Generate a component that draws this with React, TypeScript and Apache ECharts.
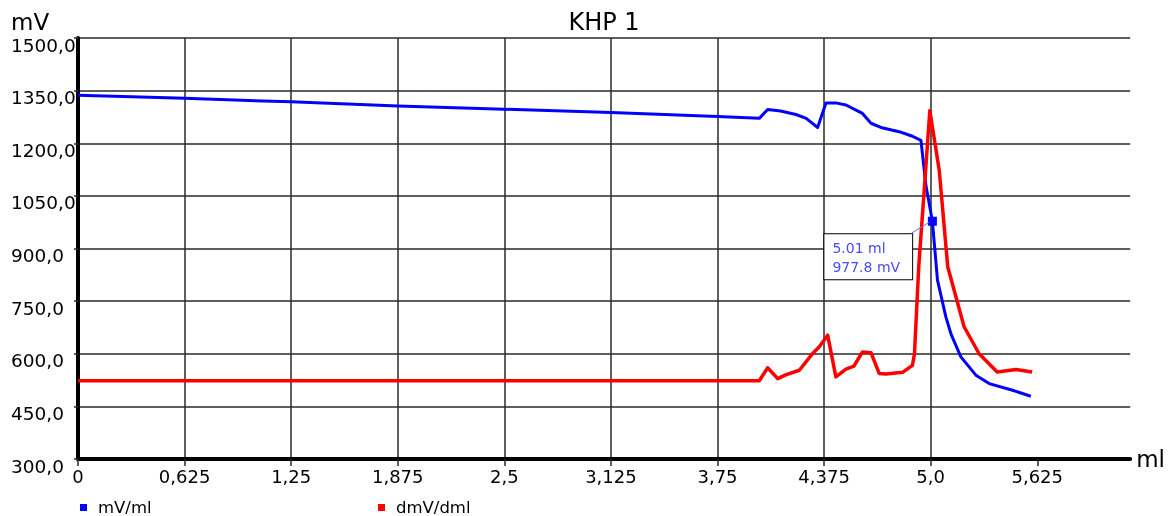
import React, { useEffect, useRef } from "react";
import * as echarts from "echarts";

const mvVolumes = [0, 0.625, 1.25, 1.875, 2.5, 3.125, 3.75, 3.995, 4.044, 4.12, 4.21, 4.27, 4.337, 4.386, 4.444, 4.503, 4.6, 4.65, 4.708, 4.815, 4.893, 4.943, 4.972, 5.01, 5.04, 5.089, 5.12, 5.177, 5.265, 5.343, 5.48, 5.587];
const mvValues = [1337, 1328, 1318, 1306, 1297, 1288, 1276, 1271, 1296, 1292, 1282, 1271, 1245, 1315, 1315, 1309, 1285, 1257, 1245, 1233, 1220, 1208, 1080, 977.8, 810, 705, 655, 591, 539, 515, 496, 479];

const dVolumes = [0, 3.995, 4.044, 4.103, 4.15, 4.23, 4.308, 4.347, 4.396, 4.444, 4.503, 4.55, 4.6, 4.65, 4.698, 4.737, 4.835, 4.893, 4.905, 4.93, 4.962, 4.995, 5.05, 5.1, 5.196, 5.284, 5.39, 5.5, 5.595];
const dValues = [523, 523, 560, 529, 540, 553, 601, 620, 653, 534, 556, 565, 605, 603, 544, 542, 547, 567, 600, 848, 1066, 1293, 1124, 848, 677, 600, 548, 555, 548];

const xTicks = [0, 0.625, 1.25, 1.875, 2.5, 3.125, 3.75, 4.375, 5.0, 5.625];
const xTickLabels = ["0", "0,625", "1,25", "1,875", "2,5", "3,125", "3,75", "4,375", "5,0", "5,625"];
const yTicks = [300, 450, 600, 750, 900, 1050, 1200, 1350, 1500];
const yTickLabels = ["300,0", "450,0", "600,0", "750,0", "900,0", "1050,0", "1200,0", "1350,0", "1500,0"];

const seriesNames = ["mV/ml", "dmV/dml"];
const markerPoint = [5.01, 977.8];
const markerText = "5.01 ml\n977.8 mV";

const FONT = "DejaVu Sans";

export default function App() {
  const ref = useRef<HTMLDivElement>(null);
  useEffect(() => {
    if (!ref.current) return;
    const chart = echarts.init(ref.current, undefined, { renderer: "svg" });
    const mvData = mvVolumes.map((v, i) => [v, mvValues[i]]);
    const dData = dVolumes.map((v, i) => [v, dValues[i]]);
    const gridColor = "#2a2a2a";
    chart.setOption({
      animation: false,
      textStyle: { fontFamily: FONT },
      grid: { left: 78, right: 37, top: 38, bottom: 57, containLabel: false },
      graphic: [
        { id: "title", type: "text", x: 604, y: 22, style: { text: "KHP 1", fontSize: 24, fontFamily: FONT, fill: "#000", align: "center", verticalAlign: "middle" } },
        { id: "mv", type: "text", x: 11, y: 22, style: { text: "mV", fontSize: 23, fontFamily: FONT, fill: "#000", align: "left", verticalAlign: "middle" } },
      ],
      legend: [
        { data: [seriesNames[0]], left: 75, top: 494, icon: "rect", itemWidth: 7, itemHeight: 7, textStyle: { fontSize: 16.5, color: "#000", fontFamily: FONT, padding: [0, 0, 0, 6] } },
        { data: [seriesNames[1]], left: 373, top: 494, icon: "rect", itemWidth: 7, itemHeight: 7, textStyle: { fontSize: 16.5, color: "#000", fontFamily: FONT, padding: [0, 0, 0, 6] } },
      ],
      xAxis: {
        type: "value",
        min: 0,
        max: 6.17,
        interval: 0.625,
        name: "ml",
        nameLocation: "end",
        nameGap: 6,
        nameTextStyle: { fontSize: 23, color: "#000", fontFamily: FONT, verticalAlign: "middle" },
        axisLine: { show: true, onZero: false, lineStyle: { color: "#000", width: 4 } },
        axisTick: { show: true, length: 7, customValues: xTicks, lineStyle: { color: gridColor, width: 1.5 } },
        axisLabel: {
          customValues: xTicks,
          margin: 8,
          fontSize: 18,
          color: "#000",
          fontFamily: FONT,
          formatter: (v: number) => {
            const i = xTicks.findIndex((t) => Math.abs(t - v) < 1e-6);
            return i >= 0 ? xTickLabels[i] : "";
          },
        },
        splitLine: { show: true, showMaxLine: false, lineStyle: { color: gridColor, width: 1.5 } },
      },
      yAxis: {
        type: "value",
        min: 300,
        max: 1500,
        interval: 150,
        axisLine: { show: true, lineStyle: { color: "#000", width: 4 } },
        axisTick: { show: true, length: 4, lineStyle: { color: gridColor, width: 1.5 } },
        axisLabel: {
          margin: 67,
          align: "left",
          fontSize: 18.5,
          color: "#000",
          fontFamily: FONT,
          verticalAlign: "top",
          lineHeight: 14,
          formatter: (v: number) => {
            const i = yTicks.findIndex((t) => Math.abs(t - v) < 1e-6);
            return i >= 0 ? yTickLabels[i] : "";
          },
        },
        splitLine: { show: true, lineStyle: { color: gridColor, width: 1.5 } },
      },
      series: [
        {
          name: seriesNames[0],
          type: "line",
          data: mvData,
          showSymbol: false,
          symbol: "none",
          color: "#0000ff",
          lineStyle: { color: "#0000ff", width: 3, join: "round" },
          markPoint: {
            symbol: "rect",
            symbolSize: 9,
            itemStyle: { color: "#0000ff" },
            data: [
              {
                coord: markerPoint,
                label: {
                  show: true,
                  formatter: markerText,
                  position: "inside",
                  align: "left",
                  verticalAlign: "top",
                  offset: [-108, 13],
                  color: "#4a4aff",
                  fontSize: 14,
                  lineHeight: 19,
                  fontFamily: FONT,
                  backgroundColor: "#fff",
                  borderColor: "#000",
                  borderWidth: 1,
                  padding: [4, 12, 3, 8],
                },
              },
            ],
          },
        },
        {
          name: seriesNames[1],
          type: "line",
          data: dData,
          showSymbol: false,
          symbol: "none",
          color: "#ff0000",
          lineStyle: { color: "#ff0000", width: 3.5, join: "round" },
        },
      ],
    });
    const p = chart.convertToPixel({ xAxisIndex: 0, yAxisIndex: 0 }, markerPoint) as number[];
    chart.setOption({
      graphic: [
        { id: "leader", type: "line", z: 100, shape: { x1: p[0] - 21, y1: p[1] + 12, x2: p[0] - 3, y2: p[1] + 1 }, style: { stroke: "#6a6aff", lineWidth: 1 } },
      ],
    });
    return () => chart.dispose();
  }, []);
  return <div ref={ref} style={{ position: "fixed", left: 0, top: 0, width: 1168, height: 516 }} />;
}
